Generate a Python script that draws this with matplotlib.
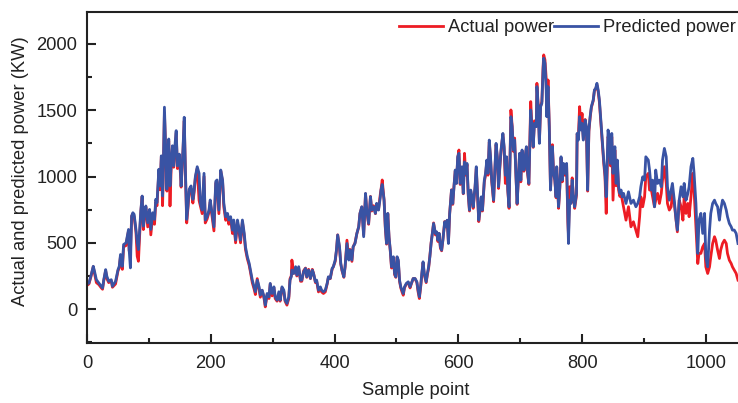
import matplotlib
matplotlib.use("Agg")
import matplotlib.pyplot as plt
from matplotlib.ticker import MultipleLocator

## values (sample index, power in KW)

sample_idx = [0, 3, 6, 10, 12, 15, 19, 23, 25, 27, 30, 32, 35, 39, 41, 46, 50, 52, 54, 57,
              59, 63, 65, 67, 68, 70, 72, 74, 76, 79, 81, 83, 85, 87, 89, 91, 93, 95, 98, 101,
              103, 106, 109, 111, 113, 116, 118, 120, 122, 123, 125, 127, 129, 130, 132, 134, 136, 138, 140, 142,
              144, 146, 149, 151, 152, 155, 157, 159, 161, 163, 165, 168, 171, 173, 175, 178, 181, 183, 186, 189,
              191, 194, 197, 199, 202, 205, 208, 210, 213, 216, 219, 221, 224, 227, 229, 232, 235, 237, 240, 243,
              245, 248, 251, 254, 256, 259, 262, 264, 267, 270, 272, 275, 278, 280, 283, 286, 288, 291, 294, 296,
              299, 302, 304, 307, 310, 312, 315, 318, 320, 323, 326, 328, 330, 331, 334, 337, 339, 342, 345, 347,
              350, 353, 355, 358, 361, 364, 366, 369, 371, 374, 377, 379, 382, 385, 388, 390, 393, 396, 398, 401,
              403, 405, 408, 410, 412, 415, 417, 420, 423, 425, 428, 430, 433, 436, 439, 441, 444, 447, 450, 452,
              455, 458, 460, 463, 466, 468, 471, 474, 475, 477, 480, 482, 484, 486, 488, 490, 492, 495, 497, 499,
              501, 503, 505, 507, 509, 511, 513, 516, 519, 522, 524, 527, 530, 533, 535, 537, 539, 541, 543, 545,
              548, 550, 552, 554, 556, 558, 560, 563, 565, 567, 569, 571, 573, 575, 578, 580, 582, 584, 586, 589,
              591, 593, 595, 597, 599, 601, 603, 606, 608, 610, 612, 614, 616, 618, 620, 622, 624, 627, 629, 631,
              633, 635, 637, 639, 642, 644, 646, 648, 650, 652, 654, 657, 659, 661, 663, 665, 667, 669, 672, 674,
              676, 678, 680, 682, 685, 687, 689, 691, 693, 695, 699, 701, 703, 706, 708, 710, 711, 714, 717, 719,
              721, 723, 726, 727, 729, 731, 733, 735, 737, 738, 740, 742, 743, 745, 747, 749, 752, 754, 756, 758,
              759, 762, 764, 766, 768, 770, 772, 775, 777, 778, 780, 782, 784, 786, 788, 791, 792, 794, 796, 798,
              800, 802, 805, 807, 809, 811, 813, 815, 818, 820, 822, 824, 826, 828, 831, 833, 835, 837, 839, 842,
              844, 846, 848, 850, 853, 855, 857, 859, 861, 863, 865, 867, 871, 875, 879, 883, 887, 890, 893, 895,
              898, 901, 903, 907, 909, 912, 914, 917, 919, 922, 925, 928, 930, 933, 936, 938, 941, 944, 946, 949,
              952, 954, 957, 960, 963, 965, 968, 971, 973, 976, 979, 981, 984, 987, 989, 992, 995, 998, 1000, 1003,
              1006, 1008, 1011, 1014, 1016, 1019, 1022, 1024, 1027, 1030, 1033, 1035, 1038, 1041, 1043, 1046, 1049, 1052]

predicted_kw = [190, 197, 247, 323, 285, 222, 197, 172, 159, 222, 298, 247, 210, 222, 172, 210, 298, 323, 412, 323,
                487, 500, 550, 601, 449, 311, 702, 727, 715, 601, 500, 449, 601, 752, 853, 626, 727, 778, 651, 752,
                601, 727, 677, 828, 803, 1055, 929, 1156, 853, 1005, 1523, 1207, 904, 1156, 1283, 929, 1106, 1232, 1081, 1232,
                1346, 1081, 1169, 1030, 929, 1207, 1447, 1030, 677, 778, 904, 929, 828, 898, 999, 1074, 1024, 798, 747, 1024,
                672, 697, 747, 823, 722, 621, 964, 974, 747, 1049, 974, 798, 697, 722, 672, 697, 596, 672, 521, 672,
                621, 521, 672, 571, 470, 395, 345, 294, 219, 168, 131, 219, 168, 106, 143, 93, 30, 118, 93, 194,
                118, 168, 93, 68, 131, 68, 168, 143, 68, 43, 93, 219, 244, 294, 269, 320, 257, 320, 219, 219,
                282, 307, 244, 294, 232, 294, 269, 206, 219, 143, 168, 143, 131, 143, 194, 244, 232, 307, 320, 370,
                445, 559, 470, 345, 294, 244, 320, 495, 370, 445, 370, 470, 495, 571, 621, 722, 772, 546, 873, 747,
                646, 848, 747, 772, 722, 798, 747, 848, 898, 940, 823, 621, 495, 722, 546, 445, 320, 395, 269, 244,
                395, 370, 219, 168, 143, 118, 168, 194, 206, 168, 193, 231, 231, 206, 143, 93, 168, 269, 357, 269,
                206, 269, 319, 395, 495, 571, 646, 571, 583, 520, 571, 470, 445, 520, 659, 621, 671, 495, 722, 898,
                797, 923, 1049, 948, 1149, 1175, 948, 1074, 873, 1110, 1024, 1099, 873, 747, 898, 847, 772, 923, 1074, 873,
                671, 747, 847, 747, 973, 1024, 1124, 1024, 1275, 1149, 973, 822, 1049, 1250, 1149, 923, 1074, 1200, 1325, 1225,
                1010, 1149, 898, 772, 1451, 1376, 1200, 1275, 1024, 797, 1175, 973, 1200, 1049, 1149, 1225, 1074, 948, 1502, 1376,
                1225, 1401, 1376, 1678, 1527, 1250, 1527, 1552, 1804, 1892, 1854, 1653, 1451, 1678, 1376, 898, 1225, 1024, 973, 847,
                1074, 772, 923, 1149, 973, 1099, 1024, 1099, 671, 495, 822, 797, 973, 847, 772, 873, 1325, 1275, 1451, 1351,
                1401, 1275, 1426, 1376, 898, 1351, 1451, 1527, 1577, 1653, 1665, 1703, 1653, 1577, 1376, 1250, 1124, 1024, 847, 1351,
                1275, 1099, 1325, 1024, 1225, 948, 1124, 923, 873, 898, 847, 873, 797, 885, 797, 822, 772, 797, 847, 923,
                998, 973, 1149, 1124, 1049, 898, 973, 772, 1049, 948, 973, 923, 1124, 1212, 1149, 923, 822, 898, 948, 822,
                671, 596, 822, 923, 847, 948, 822, 873, 923, 1074, 1137, 1024, 797, 420, 671, 722, 571, 722, 395, 319,
                596, 722, 797, 822, 797, 772, 671, 747, 822, 797, 747, 697, 646, 621, 596, 596, 571, 495]

actual_kw = [180, 190, 240, 320, 270, 200, 185, 160, 150, 215, 290, 230, 200, 215, 165, 190, 290, 310, 400, 300,
             470, 480, 540, 590, 440, 420, 700, 720, 700, 580, 399, 361, 560, 740, 850, 600, 710, 770, 620, 740,
             560, 700, 640, 810, 780, 1040, 900, 1150, 780, 990, 1480, 1200, 890, 1160, 1270, 778, 1080, 1220, 1070, 1200,
             1330, 1060, 1150, 1010, 920, 1190, 1420, 1010, 650, 760, 890, 910, 800, 880, 990, 1060, 820, 780, 720, 1000,
             650, 680, 730, 810, 700, 590, 950, 960, 720, 1040, 960, 770, 670, 700, 640, 680, 570, 660, 500, 650,
             600, 500, 660, 550, 450, 380, 330, 280, 200, 150, 110, 230, 150, 90, 140, 80, 17, 110, 80, 190,
             100, 160, 80, 60, 120, 60, 160, 130, 60, 30, 80, 230, 250, 370, 270, 310, 250, 310, 210, 210,
             290, 310, 240, 300, 230, 300, 270, 200, 210, 130, 160, 130, 118, 130, 190, 240, 230, 300, 320, 360,
             440, 560, 460, 340, 290, 240, 320, 520, 380, 450, 360, 470, 500, 570, 620, 720, 770, 560, 870, 740,
             640, 850, 740, 780, 720, 790, 750, 870, 900, 974, 820, 610, 490, 720, 540, 440, 310, 390, 260, 240,
             390, 360, 210, 160, 130, 105, 160, 190, 200, 160, 190, 230, 230, 200, 130, 80, 160, 260, 350, 260,
             200, 260, 310, 400, 500, 570, 650, 560, 580, 510, 570, 460, 440, 520, 660, 620, 670, 500, 720, 900,
             790, 930, 1040, 950, 1140, 1200, 940, 1060, 870, 1175, 1010, 1090, 860, 740, 890, 830, 760, 910, 1060, 860,
             660, 740, 840, 740, 960, 1010, 1110, 1010, 1260, 1140, 960, 810, 1040, 1240, 1140, 910, 1060, 1190, 1320, 1210,
             948, 1140, 890, 760, 1502, 1380, 1190, 1290, 1020, 790, 1170, 960, 1190, 1040, 1140, 1220, 1060, 940, 1565, 1370,
             1220, 1420, 1380, 1703, 1540, 1260, 1530, 1565, 1830, 1917, 1880, 1741, 1470, 1728, 1370, 900, 1240, 1020, 970, 840,
             1070, 760, 910, 1140, 960, 1090, 1010, 1090, 660, 560, 923, 800, 990, 840, 760, 860, 1320, 1300, 1527, 1380,
             1476, 1280, 1430, 1360, 890, 1340, 1440, 1520, 1570, 1650, 1660, 1690, 1640, 1560, 1360, 1230, 1100, 1000, 722, 1300,
             1250, 1080, 1300, 822, 1200, 930, 1100, 900, 850, 870, 820, 772, 671, 772, 621, 659, 596, 546, 697, 847,
             772, 847, 998, 1024, 898, 898, 847, 772, 822, 873, 797, 873, 973, 1074, 948, 797, 747, 772, 873, 797,
             671, 583, 822, 772, 671, 847, 722, 797, 697, 847, 1024, 898, 621, 344, 420, 420, 470, 495, 319, 269,
             319, 395, 495, 546, 520, 445, 382, 445, 495, 520, 495, 420, 369, 344, 319, 294, 269, 219]

red = "#ED1C24"
blue = "#3953A4"
ink = "#222222"

plt.rcParams["font.family"] = ["Liberation Sans", "DejaVu Sans"]
plt.rcParams["font.size"] = 13.2

fig = plt.figure(figsize=(7.38, 4.03), dpi=100)
ax = fig.add_axes([0.118, 0.149, 0.882, 0.821])

ax.plot(sample_idx, actual_kw, color=red, lw=2.0, label="Actual power")
ax.plot(sample_idx, predicted_kw, color=blue, lw=2.0, label="Predicted power")

ax.set_xlim(0, 1052)
ax.set_ylim(-255, 2240)
ax.xaxis.set_major_locator(MultipleLocator(200))
ax.xaxis.set_minor_locator(MultipleLocator(100))
ax.yaxis.set_major_locator(MultipleLocator(500))
ax.yaxis.set_minor_locator(MultipleLocator(250))

ax.tick_params(which="both", direction="in", width=1.5, colors=ink, labelcolor=ink)
ax.tick_params(which="major", length=6.5)
ax.tick_params(which="minor", length=3.5)
ax.tick_params(axis="y", pad=7)
ax.tick_params(axis="x", pad=9)
ax.tick_params(top=False, right=False, which="both")

for side in ["left", "bottom", "top"]:
    ax.spines[side].set_linewidth(1.5)
    ax.spines[side].set_color(ink)
ax.spines["right"].set_visible(False)

ax.set_xlabel("Sample point", color=ink)
ax.set_ylabel("Actual and predicted power (KW)", color=ink)
ax.xaxis.set_label_coords(0.505, -0.118)
ax.yaxis.set_label_coords(-0.09, 0.52)

ax.legend(loc="center right", bbox_to_anchor=(0.996, 0.952), ncol=2, frameon=False,
          handlelength=2.4, handletextpad=0.25, columnspacing=0.0, borderpad=0,
          borderaxespad=0, labelcolor=ink)

fig.savefig("out.png", dpi=100)
